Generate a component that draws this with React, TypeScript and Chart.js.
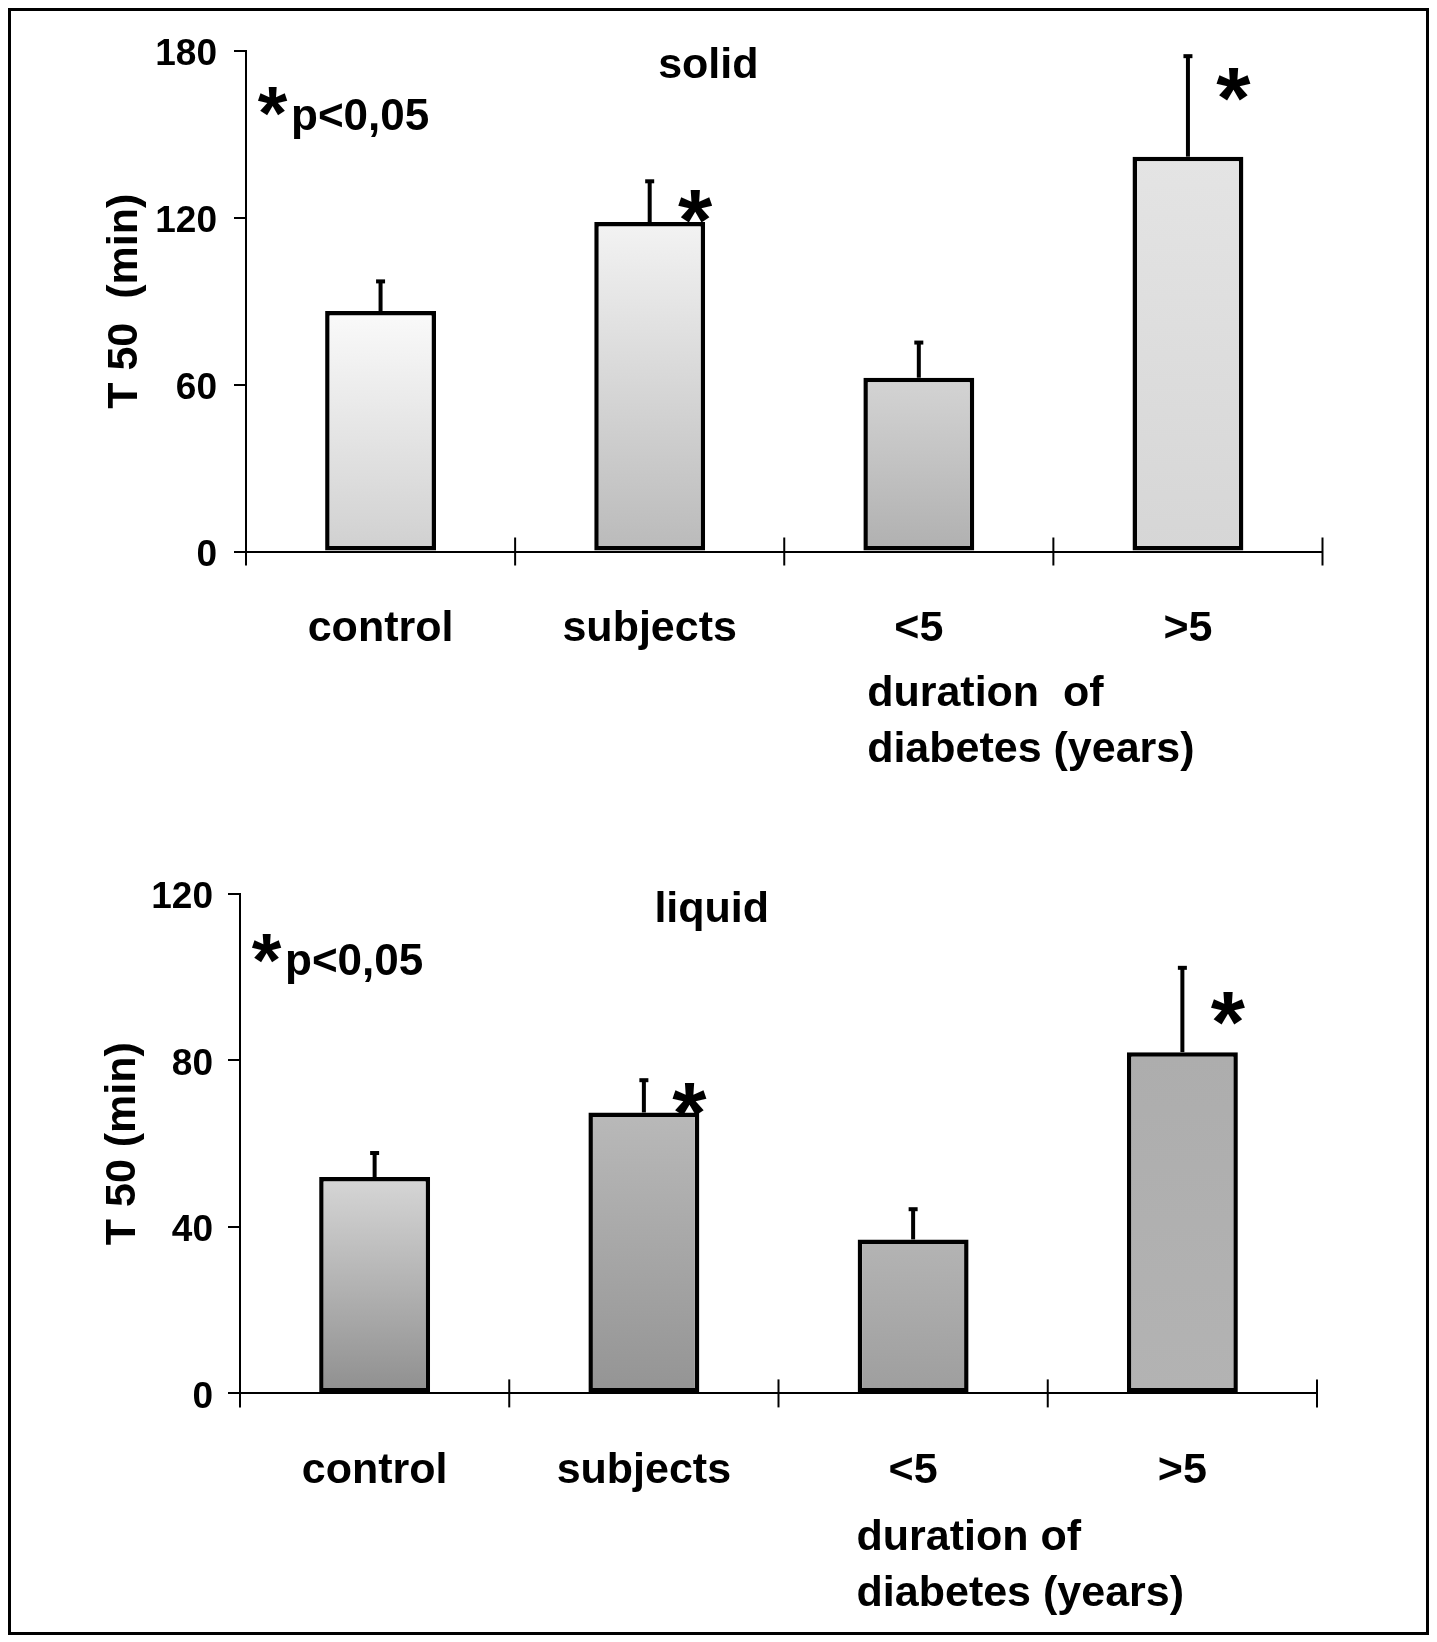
import React, { useEffect, useRef } from "react";
import { Chart, registerables } from "chart.js";

Chart.register(...registerables);

// ---------- data ----------
const categories = ["control", "subjects", "<5", ">5"];

const solidValues = [86.5, 118.5, 62.5, 142];
const solidSd = [11, 15, 13, 36.5];
const solidStarY = [null, 126, null, 170];
const solidTicks = [0, 60, 120, 180];

const liquidValues = [52, 67.5, 37, 82];
const liquidSd = [6, 8, 7.5, 20.5];
const liquidStarY = [null, 72, null, 93.8];
const liquidTicks = [0, 40, 80, 120];

const durationLinesSolid = ["duration  of", "diabetes (years)"];
const durationLinesLiquid = ["duration of", "diabetes (years)"];

// ---------- styles ----------
const FONT = "'Liberation Sans', Arial, Helvetica, sans-serif";
const solidTop = ["#fafafa", "#f3f3f3", "#d4d4d4", "#e4e4e4"];
const solidBottom = ["#d0d0d0", "#bababa", "#b0b0b0", "#d6d6d6"];
const liquidTop = ["#d6d6d6", "#b9b9b9", "#b4b4b4", "#adadad"];
const liquidBottom = ["#8f8f8f", "#949494", "#9e9e9e", "#b3b3b3"];

type PanelCfg = {
  values: number[];
  sd: number[];
  starY: (number | null)[];
  ticks: number[];
  max: number;
  yTitle: string;
  title: string;
  titleX: number;
  titleY: number;
  noteStarY: number;
  noteY: number;
  durationLines: string[];
  durationX: number;
  durationBase: number[];
  topColors: string[];
  bottomColors: string[];
  height: number;
  padTop: number;
  padRight: number;
  yWidth: number;
  xHeight: number;
  yTitlePad: number;
  yTickPad: number;
};

const annotatePlugin = {
  id: "annotate",
  afterDatasetsDraw(chart: any, _args: any, opts: any) {
    const cfg: PanelCfg = opts.cfg;
    if (!cfg) return;
    const { ctx, chartArea } = chart;
    const x = chart.scales.x;
    const y = chart.scales.y;
    const meta = chart.getDatasetMeta(0);
    ctx.save();
    ctx.strokeStyle = "#000";
    ctx.fillStyle = "#000";

    // error bars + stars
    cfg.values.forEach((v, i) => {
      const bar: any = meta.data[i];
      const cx = bar.x;
      const y0 = y.getPixelForValue(v);
      const y1 = y.getPixelForValue(v + cfg.sd[i]);
      ctx.lineWidth = 4;
      ctx.beginPath();
      ctx.moveTo(cx, y0);
      ctx.lineTo(cx, y1);
      ctx.stroke();
      ctx.fillRect(cx - 4.5, y1 - 1, 9, 4);
      const sy = cfg.starY[i];
      if (sy != null) {
        const size = 88;
        ctx.font = `bold ${size}px ${FONT}`;
        ctx.textAlign = "center";
        ctx.textBaseline = "alphabetic";
        ctx.fillText("*", cx + bar.width * 0.41, y.getPixelForValue(sy) + size * 0.56);
      }
    });

    // crossing tick marks on x axis
    const y0 = y.getPixelForValue(0);
    const n = categories.length;
    ctx.lineWidth = 2;
    for (let i = 0; i <= n; i++) {
      const bx = chartArea.left + (i * (chartArea.right - chartArea.left)) / n;
      ctx.beginPath();
      ctx.moveTo(bx, i === 0 ? y0 : y0 - 14);
      ctx.lineTo(bx, y0 + 14);
      ctx.stroke();
    }

    // panel title
    ctx.font = `bold 43px ${FONT}`;
    ctx.textAlign = "center";
    ctx.textBaseline = "alphabetic";
    ctx.fillText(cfg.title, x.getPixelForValue(cfg.titleX), y.getPixelForValue(cfg.titleY));

    // significance note
    const starSize = 76;
    ctx.font = `bold ${starSize}px ${FONT}`;
    ctx.textAlign = "center";
    ctx.fillText("*", chartArea.left + 26.5, y.getPixelForValue(cfg.noteStarY) + starSize * 0.56);
    ctx.font = `bold 44px ${FONT}`;
    ctx.textAlign = "left";
    ctx.fillText("p<0,05", chartArea.left + 45, y.getPixelForValue(cfg.noteY));

    // duration of diabetes label
    ctx.font = `bold 43px ${FONT}`;
    ctx.textAlign = "left";
    const dx = x.getPixelForValue(cfg.durationX);
    cfg.durationLines.forEach((line, k) => {
      ctx.fillText(line, dx, chartArea.bottom + cfg.durationBase[k]);
    });
    ctx.restore();
  },
};

function BarPanel({ cfg, top }: { cfg: PanelCfg; top: number }) {
  const ref = useRef<HTMLCanvasElement>(null);
  useEffect(() => {
    if (!ref.current) return;
    const chart = new Chart(ref.current, {
      type: "bar",
      data: {
        labels: categories,
        datasets: [
          {
            data: cfg.values,
            backgroundColor: (c: any) => {
              const chart = c.chart;
              const i = c.dataIndex ?? 0;
              const ys = chart.scales?.y;
              if (!chart.chartArea || !ys) return cfg.topColors[i];
              const g = chart.ctx.createLinearGradient(
                0,
                ys.getPixelForValue(cfg.values[i]),
                0,
                ys.getPixelForValue(0)
              );
              g.addColorStop(0, cfg.topColors[i]);
              g.addColorStop(1, cfg.bottomColors[i]);
              return g;
            },
            borderColor: "#000",
            borderWidth: 4.5,
            borderSkipped: false,
            barPercentage: 1,
            categoryPercentage: 0.412,
          },
        ],
      },
      options: {
        animation: false,
        responsive: true,
        maintainAspectRatio: false,
        layout: { padding: { top: cfg.padTop, right: cfg.padRight, left: 0, bottom: 0 } },
        plugins: {
          legend: { display: false },
          tooltip: { enabled: false },
          annotate: { cfg },
        } as any,
        scales: {
          x: {
            offset: true,
            grid: { display: false, drawTicks: false, tickLength: 0 },
            border: { display: true, color: "#000", width: 2 },
            ticks: {
              color: "#000",
              font: { family: FONT, size: 43, weight: "bold" },
              padding: 52,
              maxRotation: 0,
              autoSkip: false,
            },
            afterFit: (s: any) => {
              s.height = cfg.xHeight;
            },
          },
          y: {
            min: 0,
            max: cfg.max,
            afterBuildTicks: (s: any) => {
              s.ticks = cfg.ticks.map((v) => ({ value: v }));
            },
            grid: {
              display: true,
              drawOnChartArea: false,
              drawTicks: true,
              tickLength: 12,
              color: "#000",
              lineWidth: 2,
            },
            border: { display: true, color: "#000", width: 2 },
            ticks: {
              color: "#000",
              font: { family: FONT, size: 37, weight: "bold" },
              padding: cfg.yTickPad,
              labelOffset: 4,
            },
            title: {
              display: true,
              text: cfg.yTitle,
              color: "#000",
              font: { family: FONT, size: 43, weight: "bold" },
              padding: { top: cfg.yTitlePad, bottom: 0 },
            },
            afterFit: (s: any) => {
              s.width = cfg.yWidth;
            },
          },
        },
      },
      plugins: [annotatePlugin],
    } as any);
    return () => chart.destroy();
  }, []);
  return (
    <div style={{ position: "absolute", left: 0, top, width: 1415, height: cfg.height }}>
      <canvas ref={ref} />
    </div>
  );
}

const solidCfg: PanelCfg = {
  values: solidValues,
  sd: solidSd,
  starY: solidStarY,
  ticks: solidTicks,
  max: 180,
  yTitle: "T 50  (min)",
  title: "solid",
  titleX: 1.218,
  titleY: 170.3,
  noteStarY: 163.8,
  noteY: 151.6,
  durationLines: durationLinesSolid,
  durationX: 1.808,
  durationBase: [154, 210],
  topColors: solidTop,
  bottomColors: solidBottom,
  height: 790,
  padTop: 40,
  padRight: 103.5,
  yWidth: 235,
  xHeight: 249.5,
  yTitlePad: 88,
  yTickPad: 17,
};

const liquidCfg: PanelCfg = {
  values: liquidValues,
  sd: liquidSd,
  starY: liquidStarY,
  ticks: liquidTicks,
  max: 120,
  yTitle: "T 50 (min)",
  title: "liquid",
  titleX: 1.252,
  titleY: 113.2,
  noteStarY: 108.1,
  noteY: 100.6,
  durationLines: durationLinesLiquid,
  durationX: 1.79,
  durationBase: [157, 213],
  topColors: liquidTop,
  bottomColors: liquidBottom,
  height: 831,
  padTop: 93,
  padRight: 109,
  yWidth: 229,
  xHeight: 238.6,
  yTitlePad: 86,
  yTickPad: 15,
};

export default function App() {
  return (
    <div
      style={{
        position: "relative",
        width: 1421,
        height: 1627,
        border: "3px solid #000",
        boxSizing: "border-box",
        background: "#fff",
      }}
    >
      <BarPanel cfg={solidCfg} top={0} />
      <BarPanel cfg={liquidCfg} top={790} />
    </div>
  );
}
